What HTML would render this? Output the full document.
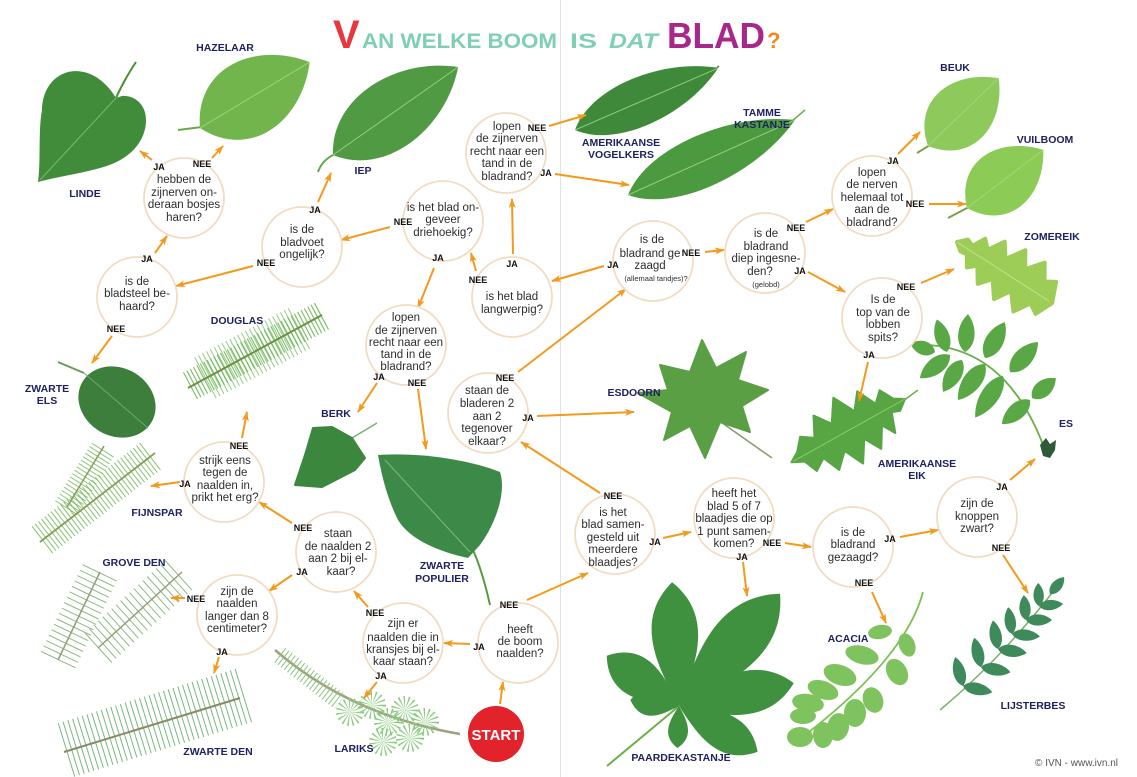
<!DOCTYPE html>
<html><head><meta charset="utf-8"><style>
html,body{margin:0;padding:0;background:#fff;}
svg{display:block;}
.q{font-family:"Liberation Sans",sans-serif;font-size:11.5px;fill:#2d2d2d;text-anchor:middle;}
.s{font-family:"Liberation Sans",sans-serif;font-size:7.5px;fill:#2d2d2d;text-anchor:middle;}
.l{font-family:"Liberation Sans",sans-serif;font-size:9px;font-weight:bold;fill:#111;text-anchor:middle;}
.n{font-family:"Liberation Sans",sans-serif;font-size:10.5px;font-weight:bold;fill:#1f2160;text-anchor:middle;}
.c{fill:#fff;stroke:#f1dcc3;stroke-width:1.8;}
.a{stroke:#f39a1c;stroke-width:2;fill:none;marker-end:url(#ah);}
.mr{stroke:#a9d98a;stroke-width:1;vector-effect:non-scaling-stroke;opacity:.8;}
</style></head><body>
<svg width="1137" height="777" viewBox="0 0 1137 777" xmlns="http://www.w3.org/2000/svg">
<defs>
<marker id="ah" markerUnits="userSpaceOnUse" markerWidth="10" markerHeight="8" refX="9" refY="4" orient="auto"><path d="M0,0.5 L10,4 L0,7.5 L2.5,4Z" fill="#f39a1c"/></marker>
<path id="lf" d="M0,0 C20,-60 70,-55 100,0 C70,55 20,60 0,0Z"/>
<path id="ob" d="M0,0 C30,-25 70,-60 100,0 C70,60 30,25 0,0Z"/>
</defs>
<rect width="1137" height="777" fill="#fff"/>
<line x1="560.5" y1="0" x2="560.5" y2="777" stroke="#e2e2e2" stroke-width="1"/>

<!-- Title -->
<text y="48" font-family="Liberation Sans, sans-serif" font-weight="bold">
<tspan x="333" font-size="40" fill="#e8383d">V</tspan>
</text>
<text x="362" y="48" font-family="Liberation Sans, sans-serif" font-weight="bold" font-size="21" fill="#7fcfb2" textLength="195" lengthAdjust="spacingAndGlyphs">AN WELKE BOOM</text>
<text x="570" y="48" font-family="Liberation Sans, sans-serif" font-weight="bold" font-size="21" fill="#7fcfb2" textLength="27" lengthAdjust="spacingAndGlyphs">IS</text>
<text x="609" y="48" font-family="Liberation Sans, sans-serif" font-weight="bold" font-style="italic" font-size="21" fill="#7fcfb2" textLength="49" lengthAdjust="spacingAndGlyphs">DAT</text>
<text x="667" y="48" font-family="Liberation Sans, sans-serif" font-weight="bold" font-size="36" fill="#a8278a" textLength="98" lengthAdjust="spacingAndGlyphs">BLAD</text>
<text x="767" y="48" font-family="Liberation Sans, sans-serif" font-weight="bold" font-size="22" fill="#f08a1c">?</text>

<!-- ===== LEAVES ===== -->
<!-- Linde -->
<path d="M116,98 Q124,80 136,62" stroke="#4d8e3a" stroke-width="2" fill="none"/>
<path d="M116,98 C104,78 86,68 68,72 C50,77 42,94 42,110 C38,132 41,160 38,182 C60,176 92,172 112,164 C132,156 146,140 146,120 C146,104 134,95 122,96 Z" fill="#418c3b"/>
<line x1="116" y1="98" x2="40" y2="180" stroke="#7cb86a" stroke-width="1"/>
<!-- Hazelaar -->
<line x1="178" y1="130" x2="202" y2="127" stroke="#6aa84a" stroke-width="2"/>
<g transform="translate(200 128) rotate(-31) scale(1.28 .88)"><use href="#lf" fill="#72b54c"/><line class="mr" x1="0" y1="0" x2="100" y2="0"/></g>
<!-- Iep -->
<path d="M318,172 Q322,160 335,154" stroke="#6aa84a" stroke-width="2" fill="none"/>
<g transform="translate(333 155) rotate(-35.1) scale(1.53 .8)"><use href="#lf" fill="#4f9a42"/><line class="mr" x1="0" y1="0" x2="100" y2="0"/></g>
<!-- Amerikaanse vogelkers -->
<line x1="712" y1="72" x2="719" y2="66" stroke="#4d8e3a" stroke-width="1.5"/>
<g transform="translate(575 130) rotate(-23.4) scale(1.56 .56)"><use href="#lf" fill="#3f8a3a"/><line class="mr" x1="0" y1="0" x2="100" y2="0"/></g>
<!-- Tamme kastanje -->
<line x1="792" y1="121" x2="805" y2="110" stroke="#6ab04a" stroke-width="1.5"/>
<g transform="translate(628 195) rotate(-24.2) scale(1.83 .6)"><use href="#lf" fill="#4c9a3f"/><line class="mr" x1="0" y1="0" x2="100" y2="0"/></g>
<!-- Beuk -->
<line x1="917" y1="153" x2="930" y2="145" stroke="#7aa04a" stroke-width="2"/>
<g transform="translate(928 146) rotate(-43.8) scale(.98 .72)"><use href="#lf" fill="#8ec95c"/><line class="mr" x1="0" y1="0" x2="100" y2="0"/></g>
<!-- Vuilboom -->
<line x1="948" y1="218" x2="969" y2="207" stroke="#7aa04a" stroke-width="2"/>
<g transform="translate(967 208) rotate(-37.3) scale(.96 .72)"><use href="#lf" fill="#8ccb55"/><line class="mr" x1="0" y1="0" x2="100" y2="0"/></g>
<!-- Zomereik -->
<g transform="translate(957 242) rotate(32.7)"><polygon points="0,0 8,-8 15,-5 22,-18 30,-10 40,-26 50,-12 62,-30 72,-14 85,-30 95,-14 105,-20 113,0 105,18 95,12 85,28 72,12 62,28 50,12 40,24 30,9 22,16 15,5 8,6" fill="#9dcc57" stroke="#9dcc57" stroke-width="4" stroke-linejoin="round"/><line x1="0" y1="0" x2="110" y2="0" stroke="#c2e08a" stroke-width="1"/></g>
<!-- Es -->
<path d="M912,345 Q1005,340 1045,450" stroke="#6ab04a" stroke-width="1.8" fill="none"/>
<g fill="#5aa845">
<g transform="translate(935 352) rotate(199) scale(.26 .16)"><use href="#lf"/></g>
<g transform="translate(947 352) rotate(-107.4) scale(.34 .17)"><use href="#lf"/></g>
<g transform="translate(965 352) rotate(-85.5) scale(.38 .19)"><use href="#lf"/></g>
<g transform="translate(985 358) rotate(-61) scale(.41 .21)"><use href="#lf"/></g>
<g transform="translate(1010 372) rotate(-47) scale(.41 .21)"><use href="#lf"/></g>
<g transform="translate(1032 398) rotate(-39.8) scale(.31 .19)"><use href="#lf"/></g>
<g transform="translate(950 355) rotate(142.5) scale(.38 .19)"><use href="#lf"/></g>
<g transform="translate(962 360) rotate(120.7) scale(.37 .19)"><use href="#lf"/></g>
<g transform="translate(985 364) rotate(126.9) scale(.45 .21)"><use href="#lf"/></g>
<g transform="translate(1003 376) rotate(123.7) scale(.5 .21)"><use href="#lf"/></g>
<g transform="translate(1030 400) rotate(139.4) scale(.37 .19)"><use href="#lf"/></g>
</g>
<polygon points="1040,445 1046,438 1050,444 1056,440 1055,450 1050,458 1043,456" fill="#2f5a3a"/>
<!-- Amerikaanse eik -->
<line x1="903" y1="401" x2="918" y2="390" stroke="#6ab04a" stroke-width="1.5"/>
<g transform="translate(905 399) rotate(150.9)"><polygon points="0,0 10,-8 18,-5 25,-25 33,-12 45,-32 55,-15 68,-36 78,-16 92,-30 100,-12 112,-20 118,-6 130,0 120,6 110,18 98,10 88,30 76,14 62,36 50,14 38,30 28,10 18,20 10,6" fill="#57a543" stroke="#57a543" stroke-width="2" stroke-linejoin="round"/><line x1="0" y1="0" x2="128" y2="0" stroke="#8ccc70" stroke-width="1"/></g>
<!-- Esdoorn -->
<line x1="718" y1="420" x2="772" y2="458" stroke="#8a9a6a" stroke-width="1.5"/>
<polygon points="638,393 668,390 660,365 690,372 702,340 716,368 746,352 738,380 768,390 742,406 750,432 720,422 705,458 690,426 664,440 672,412" fill="#5b9f45" stroke="#5b9f45" stroke-width="2" stroke-linejoin="round"/>
<!-- Berk -->
<line x1="352" y1="438" x2="377" y2="423" stroke="#7ab070" stroke-width="1.5"/>
<polygon points="352,438 365,458 355,470 322,487 295,485 305,455 313,428 332,427" fill="#3b873d" stroke="#3b873d" stroke-width="2" stroke-linejoin="round"/>
<!-- Zwarte populier -->
<path d="M466,536 Q480,560 490,605" stroke="#5a9a3d" stroke-width="2" fill="none"/>
<path d="M378,455 C420,452 470,460 500,472 C506,490 498,520 480,545 L468,558 C440,552 410,540 398,520 C388,500 382,478 378,455Z" fill="#3d8a48"/>
<line x1="385" y1="460" x2="470" y2="552" stroke="#7fb87a" stroke-width="1"/>
<!-- Zwarte els -->
<line x1="58" y1="362" x2="84" y2="373" stroke="#6a9a5a" stroke-width="2"/>
<ellipse cx="117" cy="402" rx="40" ry="34" transform="rotate(30 117 402)" fill="#3d7e3c"/>
<line x1="84" y1="373" x2="148" y2="428" stroke="#6fa56a" stroke-width="1"/>
<!-- Paardekastanje -->
<line x1="679" y1="706" x2="607" y2="766" stroke="#6ab04a" stroke-width="2"/>
<g fill="#3f9140">
<g transform="translate(679 706) rotate(-93.2) scale(1.24 .7)"><use href="#ob"/></g>
<g transform="translate(679 706) rotate(-48) scale(1.51 .8)"><use href="#ob"/></g>
<g transform="translate(679 706) rotate(-11.3) scale(1.17 .65)"><use href="#ob"/></g>
<g transform="translate(679 706) rotate(30.2) scale(.91 .55)"><use href="#ob"/></g>
<g transform="translate(679 706) rotate(92) scale(.42 .3)"><use href="#ob"/></g>
<g transform="translate(679 706) rotate(-145.2) scale(.88 .6)"><use href="#ob"/></g>
<g transform="translate(679 706) rotate(187) scale(.49 .4)"><use href="#ob"/></g>
</g>
<!-- Acacia -->
<path d="M923,592 Q905,660 796,742" stroke="#7cbf55" stroke-width="1.8" fill="none"/>
<g fill="#7fc35e">
<ellipse cx="880" cy="632" rx="12" ry="7" transform="rotate(-10 880 632)"/>
<ellipse cx="907" cy="645" rx="12" ry="8" transform="rotate(70 907 645)"/>
<ellipse cx="862" cy="655" rx="17" ry="9" transform="rotate(15 862 655)"/>
<ellipse cx="897" cy="672" rx="14" ry="10" transform="rotate(60 897 672)"/>
<ellipse cx="840" cy="675" rx="17" ry="10" transform="rotate(20 840 675)"/>
<ellipse cx="873" cy="700" rx="13" ry="10" transform="rotate(70 873 700)"/>
<ellipse cx="823" cy="690" rx="16" ry="9" transform="rotate(20 823 690)"/>
<ellipse cx="808" cy="703" rx="16" ry="9" transform="rotate(10 808 703)"/>
<ellipse cx="855" cy="713" rx="11" ry="14"/>
<ellipse cx="803" cy="716" rx="13" ry="8"/>
<ellipse cx="838" cy="727" rx="11" ry="14" transform="rotate(10 838 727)"/>
<ellipse cx="800" cy="737" rx="13" ry="10"/>
<ellipse cx="823" cy="735" rx="10" ry="13"/>
</g>
<!-- Lijsterbes -->
<path d="M940,710 Q1000,660 1056,588" stroke="#7cae6a" stroke-width="1.5" fill="none"/>
<g fill="#3f8a5a">
<g transform="translate(963 686) rotate(-105) scale(.3 .14)"><use href="#lf"/></g>
<g transform="translate(981 667) rotate(-103) scale(.3 .14)"><use href="#lf"/></g>
<g transform="translate(998 649) rotate(-100) scale(.29 .14)"><use href="#lf"/></g>
<g transform="translate(1012 634) rotate(-98) scale(.27 .13)"><use href="#lf"/></g>
<g transform="translate(1026 620) rotate(-95) scale(.25 .13)"><use href="#lf"/></g>
<g transform="translate(1039 606) rotate(-92) scale(.23 .12)"><use href="#lf"/></g>
<g transform="translate(963 686) rotate(12) scale(.3 .14)"><use href="#lf"/></g>
<g transform="translate(981 667) rotate(10) scale(.3 .14)"><use href="#lf"/></g>
<g transform="translate(998 649) rotate(8) scale(.29 .14)"><use href="#lf"/></g>
<g transform="translate(1012 634) rotate(5) scale(.28 .13)"><use href="#lf"/></g>
<g transform="translate(1026 620) rotate(0) scale(.26 .13)"><use href="#lf"/></g>
<g transform="translate(1039 606) rotate(-5) scale(.24 .12)"><use href="#lf"/></g>
<g transform="translate(1050 594) rotate(-50) scale(.22 .12)"><use href="#lf"/></g>
</g>
<!-- Douglas -->
<line x1="190" y1="386" x2="322" y2="316" stroke="#6cb456" stroke-width="30" stroke-dasharray="1.2 2.6" opacity=".85"/>
<line x1="205" y1="378" x2="300" y2="328" stroke="#6cb456" stroke-width="46" stroke-dasharray="1 3.4" opacity=".7"/>
<line x1="188" y1="388" x2="322" y2="315" stroke="#6f8f45" stroke-width="2"/>
<!-- Fijnspar -->
<line x1="42" y1="540" x2="152" y2="455" stroke="#74b858" stroke-width="34" stroke-dasharray="1 3" opacity=".85"/>
<line x1="66" y1="508" x2="104" y2="448" stroke="#74b858" stroke-width="26" stroke-dasharray="1 3" opacity=".8"/>
<line x1="40" y1="542" x2="155" y2="453" stroke="#8a9a5a" stroke-width="1.8"/>
<line x1="67" y1="507" x2="104" y2="446" stroke="#8a9a5a" stroke-width="1.5"/>
<!-- Grove den -->
<line x1="58" y1="660" x2="100" y2="572" stroke="#8fb883" stroke-width="38" stroke-dasharray="1 5"/>
<line x1="98" y1="648" x2="182" y2="572" stroke="#8fb883" stroke-width="40" stroke-dasharray="1 5"/>
<line x1="58" y1="660" x2="100" y2="572" stroke="#9a9a7a" stroke-width="1.5"/>
<line x1="98" y1="648" x2="182" y2="572" stroke="#9a9a7a" stroke-width="1.5"/>
<!-- Zwarte den -->
<line x1="66" y1="750" x2="245" y2="695" stroke="#6cae70" stroke-width="56" stroke-dasharray="1 4" opacity=".9"/>
<line x1="64" y1="752" x2="240" y2="698" stroke="#8a8a6a" stroke-width="2"/>
<!-- Lariks -->
<path d="M275,650 Q350,715 460,734" stroke="#a0a080" stroke-width="2.5" fill="none"/>
<line x1="280" y1="655" x2="340" y2="702" stroke="#8cc47f" stroke-width="18" stroke-dasharray="1 3"/>
<g fill="none" stroke="#8ccc80" stroke-width="14" stroke-dasharray="0.9 2">
<circle cx="350" cy="712" r="7"/><circle cx="372" cy="705" r="7"/><circle cx="388" cy="722" r="7"/>
<circle cx="405" cy="710" r="7"/><circle cx="425" cy="722" r="7"/><circle cx="410" cy="738" r="7"/>
<circle cx="383" cy="742" r="7"/>
</g>

<!-- ===== ARROWS ===== -->
<g class="a">
<path d="M152,160 L140,151"/><path d="M212,158 L223,146"/><path d="M155,253 L167,236"/>
<path d="M112,336 L92,363"/><path d="M318,202 L331,173"/><path d="M253,266 L176,286"/>
<path d="M390,227 L341,240"/><path d="M434,268 L418,308"/><path d="M549,126 L586,115"/>
<path d="M555,174 L629,185"/><path d="M513,254 L512,199"/><path d="M476,271 L471,253"/>
<path d="M604,266 L552,281"/><path d="M705,252 L724,250"/><path d="M806,222 L833,209"/>
<path d="M808,272 L845,292"/><path d="M898,154 L920,132"/><path d="M929,204 L966,204"/>
<path d="M921,283 L954,269"/><path d="M868,362 L859,401"/><path d="M377,383 L358,412"/>
<path d="M418,389 L426,449"/><path d="M537,416 L634,412"/><path d="M518,372 L626,289"/>
<path d="M242,438 L247,412"/><path d="M180,482 L151,486"/><path d="M292,523 L259,502"/>
<path d="M292,575 L269,591"/><path d="M185,598 L171,598"/><path d="M219,657 L214,673"/>
<path d="M368,607 L354,591"/><path d="M377,682 L364,698"/><path d="M470,644 L444,643"/>
<path d="M527,600 L588,573"/><path d="M500,704 L503,682"/><path d="M600,493 L521,442"/>
<path d="M663,538 L691,532"/><path d="M785,543 L811,547"/><path d="M743,562 L747,596"/>
<path d="M900,537 L938,530"/><path d="M872,592 L886,623"/><path d="M1010,480 L1035,459"/>
<path d="M1003,555 L1028,593"/>
</g>

<!-- ===== CIRCLES ===== -->
<g class="c">
<circle cx="184" cy="198" r="40"/><circle cx="137" cy="297" r="40"/><circle cx="302" cy="247" r="40"/>
<circle cx="443" cy="221" r="40"/><circle cx="506" cy="153" r="40"/><circle cx="512" cy="297" r="40"/>
<circle cx="653" cy="261" r="40"/><circle cx="765" cy="253" r="40"/><circle cx="872" cy="196" r="40"/>
<circle cx="882" cy="318" r="40"/><circle cx="406" cy="345" r="40"/><circle cx="488" cy="413" r="40"/>
<circle cx="224" cy="482" r="40"/><circle cx="336" cy="552" r="40"/><circle cx="237" cy="615" r="40"/>
<circle cx="403" cy="643" r="40"/><circle cx="518" cy="643" r="40"/><circle cx="615" cy="534" r="40"/>
<circle cx="734" cy="518" r="40"/><circle cx="853" cy="547" r="40"/><circle cx="977" cy="517" r="40"/>
</g>
<circle cx="496" cy="734" r="28" fill="#e3232b"/>
<text x="496" y="740" font-family="Liberation Sans, sans-serif" font-weight="bold" font-size="15" fill="#fff" text-anchor="middle">START</text>

<!-- ===== QUESTION TEXT ===== -->
<g class="q">
<text x="184" y="183">hebben de</text><text x="184" y="196">zijnerven on-</text><text x="184" y="208">deraan bosjes</text><text x="184" y="221">haren?</text>
<text x="137" y="285">is de</text><text x="137" y="297">bladsteel be-</text><text x="137" y="310">haard?</text>
<text x="302" y="233">is de</text><text x="302" y="246">bladvoet</text><text x="302" y="258">ongelijk?</text>
<text x="443" y="211">is het blad on-</text><text x="443" y="223">geveer</text><text x="443" y="236">driehoekig?</text>
<text x="507" y="130">lopen</text><text x="507" y="142">de zijnerven</text><text x="507" y="155">recht naar een</text><text x="507" y="167">tand in de</text><text x="507" y="180">bladrand?</text>
<text x="512" y="300">is het blad</text><text x="512" y="313">langwerpig?</text>
<text x="652" y="243">is de</text><text x="650" y="257">bladrand ge</text><text x="650" y="269">zaagd</text>
<text x="766" y="237">is de</text><text x="766" y="250">bladrand</text><text x="766" y="262">diep ingesne-</text><text x="760" y="275">den?</text>
<text x="872" y="176">lopen</text><text x="872" y="188">de nerven</text><text x="872" y="201">helemaal tot</text><text x="872" y="213">aan de</text><text x="872" y="226">bladrand?</text>
<text x="883" y="303">Is de</text><text x="883" y="316">top van de</text><text x="883" y="328">lobben</text><text x="883" y="341">spits?</text>
<text x="406" y="321">lopen</text><text x="406" y="334">de zijnerven</text><text x="406" y="346">recht naar een</text><text x="406" y="358">tand in de</text><text x="406" y="370">bladrand?</text>
<text x="487" y="394">staan de</text><text x="487" y="407">bladeren 2</text><text x="487" y="420">aan 2</text><text x="487" y="432">tegenover</text><text x="487" y="445">elkaar?</text>
<text x="225" y="464">strijk eens</text><text x="225" y="476">tegen de</text><text x="225" y="489">naalden in,</text><text x="225" y="501">prikt het erg?</text>
<text x="338" y="537">staan</text><text x="338" y="550">de naalden 2</text><text x="338" y="562">aan 2 bij el-</text><text x="341" y="575">kaar?</text>
<text x="237" y="595">zijn de</text><text x="237" y="607">naalden</text><text x="237" y="620">langer dan 8</text><text x="237" y="632">centimeter?</text>
<text x="403" y="627">zijn er</text><text x="403" y="641">naalden die in</text><text x="403" y="653">kransjes bij el-</text><text x="403" y="665">kaar staan?</text>
<text x="520" y="633">heeft</text><text x="520" y="645">de boom</text><text x="520" y="657">naalden?</text>
<text x="613" y="516">is het</text><text x="613" y="528">blad samen-</text><text x="613" y="541">gesteld uit</text><text x="613" y="553">meerdere</text><text x="613" y="566">blaadjes?</text>
<text x="734" y="497">heeft het</text><text x="734" y="510">blad 5 of 7</text><text x="734" y="522">blaadjes die op</text><text x="734" y="535">1 punt samen-</text><text x="734" y="547">komen?</text>
<text x="853" y="536">is de</text><text x="853" y="548">bladrand</text><text x="853" y="561">gezaagd?</text>
<text x="977" y="507">zijn de</text><text x="977" y="520">knoppen</text><text x="977" y="532">zwart?</text>
</g>
<text class="s" x="656" y="281">(allemaal tandjes)?</text>
<text class="s" x="766" y="287">(gelobd)</text>

<!-- ===== JA / NEE ===== -->
<g class="l">
<text x="159" y="170">JA</text><text x="202" y="167">NEE</text>
<text x="147" y="262">JA</text><text x="116" y="332">NEE</text>
<text x="315" y="213">JA</text><text x="266" y="266">NEE</text>
<text x="403" y="225">NEE</text><text x="438" y="261">JA</text>
<text x="537" y="131">NEE</text><text x="546" y="176">JA</text>
<text x="512" y="267">JA</text><text x="478" y="283">NEE</text>
<text x="613" y="268">JA</text><text x="691" y="256">NEE</text>
<text x="796" y="231">NEE</text><text x="800" y="274">JA</text>
<text x="893" y="164">JA</text><text x="915" y="207">NEE</text>
<text x="906" y="290">NEE</text><text x="869" y="358">JA</text>
<text x="379" y="380">JA</text><text x="417" y="386">NEE</text>
<text x="505" y="381">NEE</text><text x="528" y="421">JA</text>
<text x="239" y="449">NEE</text><text x="185" y="487">JA</text>
<text x="303" y="531">NEE</text><text x="302" y="575">JA</text>
<text x="196" y="602">NEE</text><text x="222" y="655">JA</text>
<text x="375" y="616">NEE</text><text x="381" y="679">JA</text>
<text x="479" y="650">JA</text><text x="509" y="608">NEE</text>
<text x="613" y="499">NEE</text><text x="655" y="545">JA</text>
<text x="772" y="546">NEE</text><text x="742" y="560">JA</text>
<text x="890" y="542">JA</text><text x="864" y="586">NEE</text>
<text x="1002" y="490">JA</text><text x="1001" y="551">NEE</text>
</g>

<!-- ===== TREE NAMES ===== -->
<g class="n">
<text x="225" y="51">HAZELAAR</text>
<text x="85" y="197">LINDE</text>
<text x="363" y="174">IEP</text>
<text x="621" y="146">AMERIKAANSE</text><text x="621" y="158">VOGELKERS</text>
<text x="762" y="116">TAMME</text><text x="762" y="128">KASTANJE</text>
<text x="955" y="71">BEUK</text>
<text x="1045" y="143">VUILBOOM</text>
<text x="1052" y="240">ZOMEREIK</text>
<text x="1066" y="427">ES</text>
<text x="917" y="467">AMERIKAANSE</text><text x="917" y="479">EIK</text>
<text x="634" y="396">ESDOORN</text>
<text x="336" y="417">BERK</text>
<text x="237" y="324">DOUGLAS</text>
<text x="47" y="392">ZWARTE</text><text x="47" y="404">ELS</text>
<text x="157" y="516">FIJNSPAR</text>
<text x="134" y="566">GROVE DEN</text>
<text x="442" y="569">ZWARTE</text><text x="442" y="582">POPULIER</text>
<text x="218" y="755">ZWARTE DEN</text>
<text x="354" y="752">LARIKS</text>
<text x="681" y="761">PAARDEKASTANJE</text>
<text x="848" y="642">ACACIA</text>
<text x="1033" y="709">LIJSTERBES</text>
</g>
<text x="1118" y="766" font-family="Liberation Sans, sans-serif" font-size="10" fill="#555" text-anchor="end">© IVN - www.ivn.nl</text>
</svg>
</body></html>
